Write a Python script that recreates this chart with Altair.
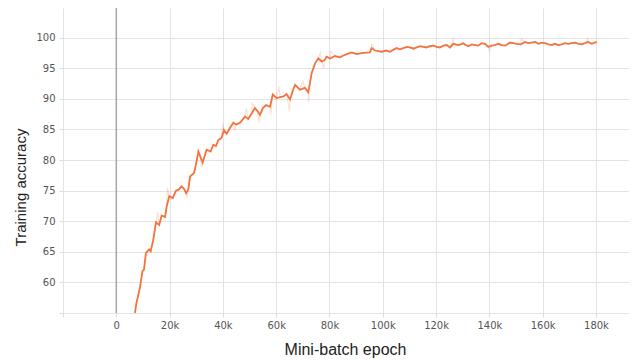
import altair as alt
import pandas as pd

# smoothed training accuracy (step in thousands, accuracy %)
steps_k = [7.0, 7.5, 8.9, 9.8, 10.4, 11.1, 12.3, 12.9, 13.9, 14.9, 16.1, 17.0, 18.3, 18.9, 19.9,
           21.2, 22.4, 23.5, 24.5, 25.4, 26.2, 27.0, 27.7, 29.2, 30.0, 30.8, 31.5, 32.4, 33.9, 35.4,
           36.4, 37.4, 38.3, 39.5, 40.4, 41.4, 42.6, 43.9, 45.0, 46.4, 47.4, 48.3, 49.5, 50.8, 52.0,
           53.0, 53.9, 55.0, 56.2, 57.7, 58.7, 60.2, 61.5, 62.7, 63.9, 65.2, 66.2, 67.1, 68.9, 70.8,
           72.0, 72.7, 73.3, 74.6, 75.8, 77.1, 78.3, 78.9, 80.2, 82.1, 83.9, 85.8, 88.3, 90.2, 92.7,
           95.2, 95.8, 97.1, 99.6, 101.2, 102.7, 103.9, 105.2, 106.4, 107.7, 109.0, 110.2, 111.5,
           112.7, 114.0, 115.2, 116.4, 117.7, 119.0, 120.2, 121.4, 122.7, 124.0, 125.2, 126.5, 128.3,
           129.2, 130.2, 131.1, 132.1, 133.4, 134.6, 135.8, 137.1, 138.4, 139.6, 140.8, 142.1, 143.4,
           144.6, 146.0, 147.7, 149.0, 150.2, 151.8, 153.4, 154.6, 155.9, 157.2, 158.4, 159.6, 160.9,
           162.2, 163.4, 164.6, 165.9, 167.2, 168.4, 169.6, 170.9, 172.2, 173.4, 174.6, 175.9, 177.1,
           178.4, 180.3]
accuracy = [55.0, 56.5, 59.2, 61.8, 62.1, 64.8, 65.4, 65.1, 67.0, 69.8, 69.4, 70.9, 70.7, 72.4, 74.1,
            73.8, 75.0, 75.2, 75.7, 75.3, 74.6, 75.2, 77.3, 77.9, 79.5, 81.4, 80.6, 79.6, 81.7, 81.4,
            82.5, 82.3, 83.3, 83.6, 84.9, 84.3, 85.2, 86.1, 85.8, 86.1, 86.6, 87.1, 86.7, 87.6, 88.5,
            88.0, 87.4, 88.5, 89.0, 88.7, 90.7, 90.1, 90.3, 90.4, 90.8, 89.9, 91.3, 92.3, 91.5, 91.8,
            91.1, 92.6, 94.2, 95.8, 96.6, 96.1, 96.4, 96.9, 96.6, 97.0, 96.8, 97.2, 97.6, 97.3, 97.5,
            97.6, 98.3, 97.9, 97.7, 97.9, 97.7, 98.0, 98.3, 98.1, 98.3, 98.5, 98.4, 98.2,
            98.4, 98.6, 98.5, 98.4, 98.6, 98.7, 98.5, 98.4, 98.7, 98.8, 98.4, 99.0, 98.8,
            98.9, 99.1, 98.8, 98.6, 98.9, 98.8, 98.7, 99.1, 99.0, 98.5, 98.7, 98.8, 99.0,
            98.8, 98.7, 99.2, 99.1, 99.0, 98.9, 99.3, 99.1, 99.2, 99.3, 99.0, 99.2, 99.1,
            98.9, 98.8, 99.0, 98.8, 98.9, 99.1, 99.0, 99.1, 99.2, 99.0, 98.9, 99.1, 99.3,
            99.0, 99.3]

# faint raw spikes visible behind the smoothed line
spike_steps_k = [15.5, 19.2, 26.5, 32.0, 40.0, 44.5, 48.8, 51.0, 53.5, 58.0, 61.0, 65.0, 70.0,
                 72.2, 76.5, 77.8, 80.5, 95.8, 126.5, 140.0, 152.0, 176.9]
spike_values = [71.5, 75.5, 73.8, 78.8, 86.0, 84.8, 88.5, 89.4, 86.2, 87.5, 92.0, 88.0, 93.0,
                89.5, 97.5, 95.0, 97.8, 99.0, 99.8, 97.9, 99.8, 99.8]

x_ticks = [-20000, 0, 20000, 40000, 60000, 80000, 100000, 120000, 140000, 160000, 180000]
y_ticks = [55, 60, 65, 70, 75, 80, 85, 90, 95, 100]

smooth = pd.DataFrame({"step": [s * 1000 for s in steps_k], "acc": accuracy})
raw = pd.concat([
    smooth,
    pd.DataFrame({"step": [s * 1000 for s in spike_steps_k], "acc": spike_values}),
]).sort_values("step")

xscale = alt.Scale(domain=[-20000, 192400], nice=False, zero=False)
yscale = alt.Scale(domain=[55, 104.85], nice=False, zero=False)

xaxis = alt.Axis(
    values=x_ticks, tickCount=len(x_ticks),
    labelExpr="datum.value < 0 ? '' : datum.value == 0 ? '0' : format(datum.value / 1000, 'd') + 'k'",
    title="Mini-batch epoch", domain=False, grid=True, gridColor="#e3e3e3",
    tickColor="#dddddd", tickSize=4, labelPadding=3,
    labelFont="DejaVu Sans", labelFontSize=10, labelColor="#555555",
    titleFont="Liberation Sans", titleFontSize=16, titleFontWeight="normal", titleColor="#222222",
    titleX=282, titleY=36, titleBaseline="middle", titleAnchor="middle",
)
yaxis = alt.Axis(
    values=y_ticks, tickCount=len(y_ticks),
    labelExpr="datum.value == 55 ? '' : format(datum.value, 'd')",
    title="Training accuracy", domain=False, grid=True, gridColor="#e3e3e3",
    tickColor="#dddddd", tickSize=4, labelPadding=4,
    labelFont="DejaVu Sans", labelFontSize=10, labelColor="#555555",
    titleFont="Liberation Sans", titleFontSize=15, titleFontWeight="normal", titleColor="#222222",
    titleX=-43, titleY=179, titleBaseline="middle", titleAngle=270,
)

base_raw = alt.Chart(raw).mark_line(color="#f4733f", opacity=0.22, strokeWidth=1.2, clip=True).encode(
    x=alt.X("step:Q", scale=xscale, axis=xaxis),
    y=alt.Y("acc:Q", scale=yscale, axis=yaxis),
)
line = alt.Chart(smooth).mark_line(color="#f4733f", strokeWidth=1.8, clip=True).encode(
    x=alt.X("step:Q", scale=xscale),
    y=alt.Y("acc:Q", scale=yscale),
)
zero = alt.Chart(pd.DataFrame({"step": [0]})).mark_rule(color="#a6a6a6", strokeWidth=1.5).encode(
    x=alt.X("step:Q", scale=xscale),
)

chart = alt.layer(base_raw, zero, line).properties(
    width=566, height=305,
    autosize=alt.AutoSizeParams(type="none"),
    padding={"left": 55, "top": 0, "right": 0, "bottom": 50},
).configure_view(stroke=None)

chart.save("out.html", embed_options={"renderer": "svg", "actions": False})
